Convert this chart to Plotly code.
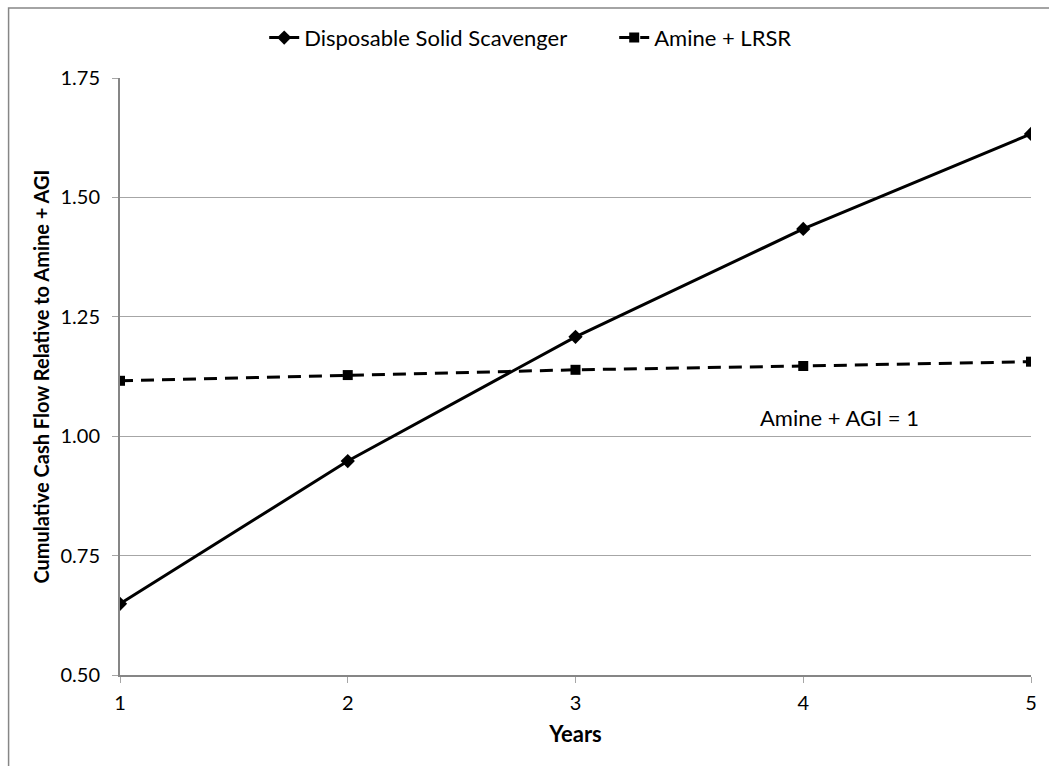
import plotly.graph_objects as go

years = [1, 2, 3, 4, 5]
disposable = [0.649, 0.948, 1.208, 1.434, 1.633]
amine_lrsr = [1.116, 1.128, 1.139, 1.147, 1.156]
y_ticks = [0.50, 0.75, 1.00, 1.25, 1.50, 1.75]

FONT = "Lato"
fig = go.Figure()
fig.add_trace(go.Scatter(
    x=years, y=disposable, name="Disposable Solid Scavenger",
    mode="lines+markers",
    line=dict(color="black", width=3),
    marker=dict(symbol="diamond", size=11, color="black"),
))
fig.add_trace(go.Scatter(
    x=years, y=amine_lrsr, name="Amine + LRSR",
    mode="lines+markers",
    line=dict(color="black", width=3, dash="13px,8px"),
    marker=dict(symbol="square", size=10, color="black"),
))

fig.add_annotation(x=4.161, y=1.04, text="Amine + AGI = 1", showarrow=False,
                   font=dict(family=FONT, size=22, color="black"))

# outer chart border
fig.add_shape(type="rect", xref="paper", yref="paper",
              x0=-0.1223, y0=-0.2, x1=1.1, y1=1.1173,
              line=dict(color="#868686", width=1.5), layer="below")

fig.update_layout(
    width=1049, height=766,
    margin=dict(l=120, r=13, t=78, b=91),
    paper_bgcolor="white", plot_bgcolor="white",
    font=dict(family=FONT, size=20, color="black"),
    showlegend=True,
    legend=dict(orientation="h", x=(265 - 120) / 916, xanchor="left", y=1.0673, yanchor="middle",
                font=dict(family=FONT, size=22, color="black"), itemwidth=30,
                entrywidth=305, bgcolor="rgba(0,0,0,0)"),
    xaxis=dict(range=[1, 5], tickvals=years, ticktext=[str(v) for v in years],
               showgrid=False, showline=True, linecolor="#868686", linewidth=2,
               ticks="outside", ticklen=6, tickcolor="#a6a6a6", tickwidth=1,
               tickfont=dict(family=FONT, size=20), zeroline=False, ticklabelstandoff=3,
               title=dict(text="<b>Years</b>", font=dict(family=FONT, size=22), standoff=14)),
    yaxis=dict(range=[0.5, 1.75], tickvals=y_ticks, tickformat=".2f",
               showgrid=True, gridcolor="#a6a6a6", gridwidth=1,
               showline=True, linecolor="#868686", linewidth=2,
               ticks="outside", ticklen=6, tickcolor="#a6a6a6", tickwidth=1,
               tickfont=dict(family=FONT, size=20), zeroline=False, ticklabelstandoff=8,
               title=dict(text="<b>Cumulative Cash Flow Relative to Amine + AGI</b>",
                          font=dict(family=FONT, size=20), standoff=5)),
)

fig.write_html("out.html")
